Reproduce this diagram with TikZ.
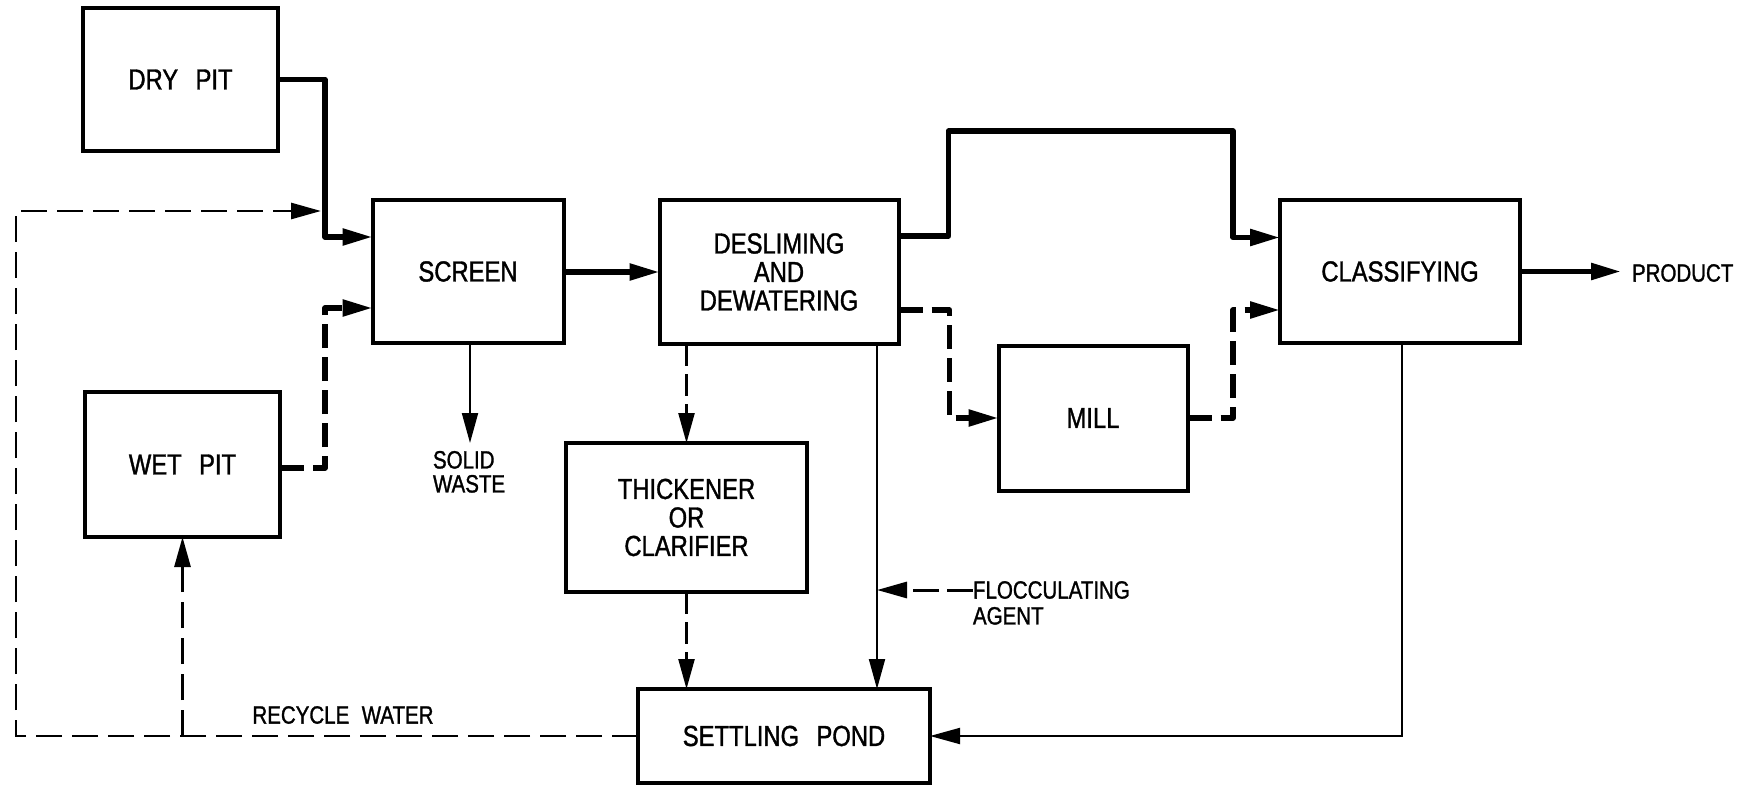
\documentclass[tikz,border=0pt]{standalone}
\usepackage{fontspec}
\setmainfont[FakeStretch=0.82, FakeBold=1.2]{Liberation Sans}
\usetikzlibrary{arrows.meta}
\begin{document}
\begin{tikzpicture}[x=1pt,y=-1pt,
  box/.style={draw, line width=4pt, inner sep=0pt, outer sep=0pt, align=center,
    font=\fontsize{29}{28.5}\selectfont},
  tip/.style={-{Triangle[length=30pt,width=16pt]}},
  heavy/.style={line width=5.5pt, line join=round, tip},
  heavydash/.style={line width=5.5pt, line join=round, dash pattern=on 24pt off 9pt, tip},
  thinline/.style={line width=2pt, tip},
  thindash/.style={line width=2.4pt, dash pattern=on 22pt off 8pt, tip},
  recycle/.style={line width=2.8pt, dash pattern=on 26pt off 10pt, tip},
  lbl/.style={inner sep=0pt, outer sep=0pt, font=\fontsize{25}{24}\selectfont}]
\useasboundingbox (0,0) rectangle (1758,786);

% boxes
\node[box, minimum width=195pt, minimum height=143pt] (dry) at (180.5,79.5) {DRY\hspace{0.6em}PIT};
\node[box, minimum width=195pt, minimum height=145pt] (wet) at (182.5,464.5) {WET\hspace{0.6em}PIT};
\node[box, minimum width=191pt, minimum height=143pt] (screen) at (468,271.5) {SCREEN};
\node[box, minimum width=239pt, minimum height=144pt] (desl) at (779,272) {DESLIMING\\AND\\DEWATERING};
\node[box, minimum width=241pt, minimum height=149pt] (thick) at (686.5,517.5) {THICKENER\\OR\\CLARIFIER};
\node[box, minimum width=189pt, minimum height=145pt] (mill) at (1093,418) {MILL};
\node[box, minimum width=240pt, minimum height=143pt] (class) at (1400,271.5) {CLASSIFYING};
\node[box, minimum width=292pt, minimum height=94pt] (pond) at (784,736) {SETTLING\hspace{0.6em}POND};

% labels
\node[lbl, anchor=west] (prod) at (1632,273) {PRODUCT};
\node[lbl, anchor=north west, align=left] (solid) at (433,451) {SOLID\\WASTE};
\node[lbl, anchor=west] (floc) at (973,590) {FLOCCULATING};
\node[lbl, anchor=north west] (agent) at (973,607) {AGENT};
\node[lbl] (rw) at (343,715) {RECYCLE\hspace{0.5em}WATER};

% helper coordinates
\coordinate (rcBL) at (16,736);
\coordinate (rcTL) at (16,211);
\coordinate (rcEnd) at (321,211);
\coordinate (sw) at (470,443);
\coordinate (tl) at ([xshift=98pt]desl.south);

% connectors
\draw[heavy] (dry.east) -| ([xshift=-47.5pt,yshift=34.5pt]screen.west) -- ([yshift=34.5pt]screen.west);
\draw[heavydash] ([yshift=-3.5pt]wet.east) -| ([xshift=-47.5pt,yshift=-36.5pt]screen.west) -- ([yshift=-36.5pt]screen.west);
\draw[recycle] (pond.west) -- (rcBL) -- (rcTL) -- (rcEnd);
\draw[recycle] (wet.south |- pond.west) -- (wet.south);
\draw[heavy] (screen.east |- desl.west) -- (desl.west);
\draw[thinline] ([xshift=2pt]screen.south) -- (sw);
\draw[thindash] (thick.north |- desl.south) -- (thick.north);
\draw[thindash] (thick.south) -- (thick.south |- pond.north);
\draw[thinline] (tl) -- (tl |- pond.north);
\draw[line width=3pt, dash pattern=on 26pt off 8pt, tip] (floc.west) -- (floc.west -| tl);
\draw[heavy] ([yshift=36pt]desl.east) -- ++(50,0) -- ++(0,-105) -| ([xshift=-47pt,yshift=34pt]class.west) -- ([yshift=34pt]class.west);
\draw[heavydash] ([yshift=-38pt]desl.east) -- ++(51,0) |- (mill.west);
\draw[heavydash] (mill.east) -| ([xshift=-47pt,yshift=-38.5pt]class.west) -- ([yshift=-38.5pt]class.west);
\draw[heavy] (class.east) -- ([xshift=-11pt]prod.west |- class.east);
\draw[thinline] ([xshift=2pt]class.south) |- (pond.east);
\end{tikzpicture}
\end{document}
